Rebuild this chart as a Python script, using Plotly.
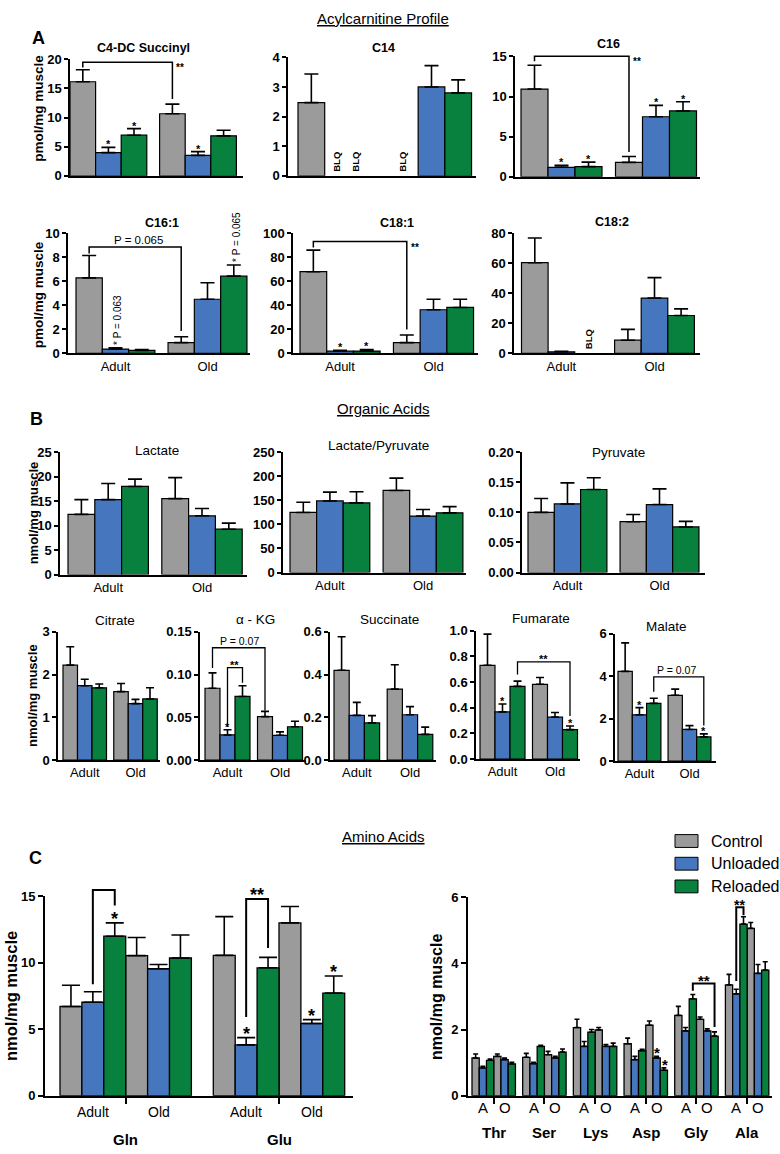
import plotly.graph_objects as go

FIG_W, FIG_H = 780, 1154
FONT = "Liberation Sans, Arial, Helvetica, sans-serif"
SERIES = ["Control", "Unloaded", "Reloaded"]
COLORS = ["#9b9b9b", "#4677be", "#08803e"]
AGE_LABELS = ["Adult", "Old"]
AGE_SHORT = ["A", "O"]

# ---------------- data (order: Adult C/U/R, Old C/U/R); None = BLQ ----------------
# Panel A: acylcarnitines, pmol/mg muscle
C4DC_MEAN = [16.15, 3.97, 6.97, 10.65, 3.5, 6.86]
C4DC_SEM = [2.05, 0.9, 1.13, 1.65, 0.64, 0.96]
C14_MEAN = [2.47, None, None, None, 3.0, 2.8]
C14_SEM = [0.97, None, None, None, 0.72, 0.44]
C16_MEAN = [10.93, 1.18, 1.26, 1.79, 7.48, 8.2]
C16_SEM = [2.97, 0.24, 0.57, 0.73, 1.42, 1.15]
C161_MEAN = [6.28, 0.36, 0.25, 0.9, 4.5, 6.42]
C161_SEM = [1.86, 0.1, 0.08, 0.49, 1.37, 0.93]
C181_MEAN = [67.9, 2.0, 2.0, 9.0, 36.3, 38.2]
C181_SEM = [17.9, 0.5, 1.3, 6.3, 8.7, 6.8]
C182_MEAN = [60.3, 1.1, None, 8.8, 36.8, 25.2]
C182_SEM = [16.4, 0.4, None, 7.2, 13.6, 4.4]

# Panel B: organic acids, nmol/mg muscle
LACTATE_MEAN = [12.3, 15.3, 18.0, 15.5, 12.0, 9.26]
LACTATE_SEM = [3.0, 3.3, 1.5, 4.3, 1.5, 1.24]
LACPYR_MEAN = [124.8, 148.7, 144.6, 170.5, 117.3, 124.0]
LACPYR_SEM = [21.2, 18.3, 23.2, 25.5, 13.7, 13.0]
PYRUVATE_MEAN = [0.100, 0.114, 0.138, 0.0845, 0.113, 0.0758]
PYRUVATE_SEM = [0.023, 0.035, 0.0196, 0.012, 0.026, 0.0092]
CITRATE_MEAN = [2.22, 1.74, 1.69, 1.60, 1.32, 1.43]
CITRATE_SEM = [0.43, 0.15, 0.09, 0.19, 0.10, 0.26]
AKG_MEAN = [0.084, 0.0294, 0.0744, 0.0508, 0.029, 0.039]
AKG_SEM = [0.018, 0.006, 0.0126, 0.0062, 0.004, 0.0064]
SUCCINATE_MEAN = [0.42, 0.209, 0.174, 0.332, 0.212, 0.12]
SUCCINATE_SEM = [0.157, 0.061, 0.034, 0.114, 0.038, 0.034]
FUMARATE_MEAN = [0.731, 0.368, 0.567, 0.583, 0.327, 0.23]
FUMARATE_SEM = [0.243, 0.062, 0.041, 0.053, 0.036, 0.028]
MALATE_MEAN = [4.23, 2.18, 2.72, 3.1, 1.49, 1.14]
MALATE_SEM = [1.34, 0.34, 0.24, 0.29, 0.18, 0.14]

# Panel C: amino acids, nmol/mg muscle
GLX_NAMES = ["Gln", "Glu"]
GLN_MEAN = [6.71, 7.03, 12.0, 10.54, 9.55, 10.36]
GLN_SEM = [1.6, 0.79, 1.0, 1.36, 0.32, 1.73]
GLU_MEAN = [10.56, 3.82, 9.62, 13.0, 5.43, 7.72]
GLU_SEM = [2.91, 0.55, 0.79, 1.24, 0.29, 1.28]

AA_NAMES = ["Thr", "Ser", "Lys", "Asp", "Gly", "Ala"]
THR_MEAN = [1.14, 0.84, 1.07, 1.19, 1.09, 0.96]
THR_SEM = [0.12, 0.05, 0.04, 0.07, 0.05, 0.05]
SER_MEAN = [1.16, 0.97, 1.49, 1.24, 1.14, 1.32]
SER_SEM = [0.12, 0.04, 0.03, 0.10, 0.05, 0.09]
LYS_MEAN = [2.06, 1.49, 1.92, 1.99, 1.49, 1.49]
LYS_SEM = [0.25, 0.15, 0.08, 0.07, 0.06, 0.10]
ASP_MEAN = [1.57, 1.09, 1.36, 2.13, 1.14, 0.77]
ASP_SEM = [0.17, 0.10, 0.04, 0.13, 0.05, 0.07]
GLY_MEAN = [2.43, 1.96, 2.93, 2.31, 1.96, 1.80]
GLY_SEM = [0.27, 0.10, 0.13, 0.07, 0.06, 0.13]
ALA_MEAN = [3.35, 3.08, 5.19, 5.06, 3.70, 3.80]
ALA_SEM = [0.32, 0.14, 0.22, 0.18, 0.27, 0.25]

# ---------------- layout helpers ----------------
AO_POS = [0, 1, 2, 3.5, 4.5, 5.5]


def multi_pos(n):
    return [7 * j + i for j in range(n) for i in range(6)]


# geometry in page pixels: (axis left, axis right, top, bottom(=0), first bar left, bar width)
panels = [
    dict(title="C4-DC Succinyl", mean=C4DC_MEAN, sem=C4DC_SEM, geom=(70, 243, 53, 171, 70, 25.6), ymax=20, dtick=5, fmt="", cap=7, xl=False),
    dict(title="C14", mean=C14_MEAN, sem=C14_SEM, geom=(288, 476, 51, 171, 298, 26.7), ymax=4, dtick=1, fmt="", cap=7, xl=False),
    dict(title="C16", mean=C16_MEAN, sem=C16_SEM, geom=(515, 700, 50, 172, 521, 27), ymax=15, dtick=5, fmt="", cap=7, xl=False),
    dict(title="C16:1", mean=C161_MEAN, sem=C161_SEM, geom=(68, 250, 229, 351, 76, 26.3), ymax=10, dtick=2, fmt="", cap=7, xl=True),
    dict(title="C18:1", mean=C181_MEAN, sem=C181_SEM, geom=(293, 478, 229, 351, 300, 26.7), ymax=100, dtick=20, fmt="", cap=7, xl=True),
    dict(title="C18:2", mean=C182_MEAN, sem=C182_SEM, geom=(514, 700, 229, 351, 521.5, 26.6), ymax=80, dtick=20, fmt="", cap=7, xl=True),
    dict(title="Lactate", mean=LACTATE_MEAN, sem=LACTATE_SEM, geom=(60, 247, 451, 575, 68, 26.8), ymax=25, dtick=5, fmt="", cap=7, xl=True),
    dict(title="Lactate/Pyruvate", mean=LACPYR_MEAN, sem=LACPYR_SEM, geom=(283, 466, 451, 573, 290, 26.6), ymax=250, dtick=50, fmt="", cap=7, xl=True),
    dict(title="Pyruvate", mean=PYRUVATE_MEAN, sem=PYRUVATE_SEM, geom=(522, 705, 451, 573, 528, 26.3), ymax=0.2, dtick=0.05, fmt=".2f", cap=7, xl=True),
    dict(title="Citrate", mean=CITRATE_MEAN, sem=CITRATE_SEM, geom=(58, 160, 633, 763, 63, 14.5), ymax=3, dtick=1, fmt="", cap=4, xl=True),
    dict(title="\u03b1 - KG", mean=AKG_MEAN, sem=AKG_SEM, geom=(200, 306, 633, 763, 205, 15), ymax=0.15, dtick=0.05, fmt=".2f", cap=4, xl=True),
    dict(title="Succinate", mean=SUCCINATE_MEAN, sem=SUCCINATE_SEM, geom=(330, 436, 633, 763, 334, 15.2), ymax=0.6, dtick=0.2, fmt=".1f", cap=4, xl=True),
    dict(title="Fumarate", mean=FUMARATE_MEAN, sem=FUMARATE_SEM, geom=(476, 580, 632, 762, 480, 15), ymax=1.0, dtick=0.2, fmt=".1f", cap=4, xl=True),
    dict(title="Malate", mean=MALATE_MEAN, sem=MALATE_SEM, geom=(615, 716, 635, 764, 618, 14.3), ymax=6, dtick=2, fmt="", cap=4, xl=True),
    dict(title=None, mean=GLN_MEAN + GLU_MEAN, sem=GLN_SEM + GLU_SEM, geom=(45, 353, 901, 1103, 60, 21.9), ymax=15, dtick=5, fmt="", cap=9, xl="C", groups=GLX_NAMES),
    dict(title=None, mean=THR_MEAN + SER_MEAN + LYS_MEAN + ASP_MEAN + GLY_MEAN + ALA_MEAN,
         sem=THR_SEM + SER_SEM + LYS_SEM + ASP_SEM + GLY_SEM + ALA_SEM,
         geom=(468, 772, 902, 1103, 472, 7.24), ymax=6, dtick=2, fmt="", cap=2.5, xl="C", groups=AA_NAMES),
]

fig = go.Figure()
layout = dict(width=FIG_W, height=FIG_H, autosize=False, margin=dict(l=0, r=0, t=0, b=0, pad=0),
              paper_bgcolor="white", plot_bgcolor="white", barmode="overlay",
              showlegend=False, font=dict(family=FONT, color="black"))
annotations = []
shapes = []
G = {}


def refs(n):
    return ("x" if n == 1 else f"x{n}", "y" if n == 1 else f"y{n}")


for n, p in enumerate(panels, start=1):
    L, R, T, B, B0, BW = p["geom"]
    G[n] = (L, R, T, B, B0, BW, p["ymax"])
    xr, yr = refs(n)
    if "groups" in p:
        pos = multi_pos(len(p["groups"]))
    else:
        pos = AO_POS
    big = p["xl"] == "C"
    for k, s in enumerate(SERIES):
        idx = [i for i in range(len(p["mean"])) if i % 3 == k]
        fig.add_trace(go.Bar(
            x=[pos[i] for i in idx], y=[p["mean"][i] for i in idx], width=1, name=s,
            marker=dict(color=COLORS[k], line=dict(color="black", width=1.3 if big else 1.2)),
            error_y=dict(type="data", symmetric=False,
                         array=[p["sem"][i] for i in idx], arrayminus=[0] * len(idx),
                         color="black", thickness=1.6, width=p["cap"]),
            xaxis=xr, yaxis=yr, showlegend=False, hoverinfo="skip"))
    xax = dict(domain=[L / FIG_W, R / FIG_W], range=[(L - B0) / BW - 0.5, (R - B0) / BW - 0.5],
               anchor=yr, showline=True, linecolor="black", linewidth=2 if big else 1.5,
               showgrid=False, zeroline=False, fixedrange=True)
    if big:
        ng = len(p["groups"])
        xax.update(tickmode="array", tickvals=[7 * j + 2.5 for j in range(ng)], ticktext=[""] * ng,
                   ticks="outside", ticklen=6, tickwidth=2, tickcolor="black", showticklabels=False)
    elif p["xl"]:
        xax.update(tickmode="array", tickvals=[1, 4.5], ticktext=AGE_LABELS, ticks="",
                   tickfont=dict(size=13, family=FONT))
    else:
        xax.update(showticklabels=False, ticks="")
    nt = int(round(p["ymax"] / p["dtick"]))
    yax = dict(domain=[1 - B / FIG_H, 1 - T / FIG_H], range=[0, p["ymax"] * 1.0002], anchor=xr,
               showline=True, linecolor="black", linewidth=2 if big else 1.5,
               showgrid=False, zeroline=False, fixedrange=True,
               tickmode="array", tickvals=[round(i * p["dtick"], 6) for i in range(nt + 1)],
               ticks="outside", ticklen=5 if big else 4, tickwidth=2 if big else 1.5, tickcolor="black",
               tickformat=p["fmt"], tickfont=dict(size=13, family=FONT, weight="bold"))
    layout["xaxis" if n == 1 else f"xaxis{n}"] = xax
    layout["yaxis" if n == 1 else f"yaxis{n}"] = yax


def to_px(n, x, y):
    L, R, T, B, B0, BW, ymax = G[n]
    return B0 + BW * (x + 0.5), B - (B - T) * y / ymax


def bracket(n, xl, yl, xr_, yr_, ytop, w=1.5):
    a = to_px(n, xl, yl)
    b = to_px(n, xl, ytop)
    c = to_px(n, xr_, ytop)
    d = to_px(n, xr_, yr_)
    pts = [a, b, c, d]
    path = "M" + " L".join(f"{px / FIG_W:.5f},{1 - py / FIG_H:.5f}" for px, py in pts)
    shapes.append(dict(type="path", path=path, xref="paper", yref="paper",
                       line=dict(color="black", width=w)))


def note(n, x, y, text, size=12, bold=False, **kw):
    xr, yr = refs(n)
    d = dict(xref=xr, yref=yr, x=x, y=y, text=text, showarrow=False, xanchor="center", yanchor="middle",
             font=dict(size=size, family=FONT, color="#000000", weight="bold" if bold else "normal"))
    d.update(kw)
    annotations.append(d)


def star(n, x, y, text="*", size=11):
    note(n, x, y, text, size=size, bold=True, yanchor="bottom", yshift=-round(0.45 * size))


def pnote(px, py, text, size=12, bold=False, **kw):
    d = dict(xref="paper", yref="paper", x=px / FIG_W, y=1 - py / FIG_H, text=text, showarrow=False,
             xanchor="center", yanchor="middle",
             font=dict(size=size, family=FONT, color="#000000", weight="bold" if bold else "normal"))
    d.update(kw)
    annotations.append(d)


# ---------------- section titles, letters, subplot titles ----------------
for txt, py in [("Acylcarnitine Profile", 12), ("Organic Acids", 407), ("Amino Acids", 840)]:
    annotations.append(dict(xref="paper", yref="paper", x=383 / FIG_W, y=1 - py / FIG_H, text=txt,
                            showarrow=False, xanchor="center", yanchor="middle",
                            font=dict(size=15, family=FONT, color="#000000", lineposition="under")))
pnote(38, 31, "A", 18, True)
pnote(36, 417, "B", 18, True)
pnote(35, 862, "C", 18, True)

title_pos = {1: (143, 42), 2: (383, 42), 3: (608, 37), 4: (162, 219), 5: (397, 219), 6: (612, 218),
             7: (157, 449), 8: (378, 444), 9: (618, 451),
             10: (115, 622), 11: (255, 621), 12: (389, 621), 13: (541, 620), 14: (666, 628)}
for n, (px, py) in title_pos.items():
    bold = n <= 6
    pnote(px, py, panels[n - 1]["title"], 12.5 if bold else 13.5, bold)

# y-axis titles
for px, py, txt, size in [(39, 103, "pmol/mg muscle", 13.5), (38, 292, "pmol/mg muscle", 13.5),
                          (33, 513, "nmol/mg muscle", 13), (33, 698, "nmol/mg muscle", 13),
                          (11, 1002, "nmol/mg muscle", 16.5), (437, 1003, "nmol/mg muscle", 16)]:
    pnote(px, py, txt, size, True, textangle=-90)

# ---------------- significance marks ----------------
# C4-DC
for x, y in [(1, 4.87), (2, 8.1), (4.5, 4.14)]:
    star(1, x, y)
bracket(1, 0, 18.6, 3.5, 13.2, 19.5)
note(1, 3.5, 19.5, "**", 10, True, xanchor="left", yanchor="top", xshift=2, yshift=2)
# C14 BLQ
for x in [0.96, 1.67, 3.43]:
    note(2, x, 0, "BLQ", 9.5, True, textangle=-90, yanchor="bottom", yshift=2)
# C16
for x, y in [(1, 1.42), (2, 1.83), (4.5, 8.9), (5.5, 9.35)]:
    star(3, x, y)
bracket(3, 0, 14.4, 3.5, 3.1, 15)
note(3, 3.5, 15, "**", 10, True, xanchor="left", yanchor="top", xshift=2, yshift=2)
# C16:1
bracket(4, 0, 8.3, 3.5, 1.86, 8.83)
note(4, 1.86, 8.83, "P = 0.065", 11.5, yanchor="bottom", yshift=-1)
note(4, 1.1, 0.46, "* P = 0.063", 10, textangle=-90, yanchor="bottom", yshift=1)
note(4, 5.62, 7.35, "* P = 0.065", 10, textangle=-90, yanchor="bottom", yshift=1)
# C18:1
for x, y in [(1, 2.5), (2, 3.3)]:
    star(5, x, y)
bracket(5, 0, 88, 3.5, 19.9, 92.9)
note(5, 3.5, 92.9, "**", 10, True, xanchor="left", yanchor="top", xshift=2, yshift=2)
# C18:2 BLQ
note(6, 2.03, 0, "BLQ", 9.5, True, textangle=-90, yanchor="bottom", yshift=2)
# alpha-KG
star(11, 1, 0.0355)
bracket(11, 0, 0.1076, 3.5, 0.058, 0.1313, 1.3)
note(11, 1.77, 0.1313, "P = 0.07", 10.5, yanchor="bottom", yshift=-1)
bracket(11, 1, 0.039, 2, 0.0905, 0.108, 1.3)
star(11, 1.5, 0.108, "**", 11)
# Fumarate
star(13, 1, 0.43)
star(13, 5.5, 0.258)
bracket(13, 2, 0.66, 5.5, 0.335, 0.757, 1.3)
star(13, 3.75, 0.757, "**", 11)
# Malate
star(14, 1, 2.52)
star(14, 5.5, 1.28)
bracket(14, 2, 3.27, 5.5, 1.68, 3.97, 1.3)
note(14, 3.6, 3.97, "P = 0.07", 10.5, yanchor="bottom", yshift=-1)
# Gln / Glu
for x, y in [(2, 13.0), (8, 4.37), (11, 5.72), (12, 9.0)]:
    star(15, x, y, size=18)
bracket(15, 1, 8.39, 2, 14.3, 15.47, 2)
star(15, 1.5, 15.47, "**", 18)
bracket(15, 8, 5.92, 9, 11.1, 14.8, 2)
star(15, 8.5, 14.8, "**", 18)
# small amino acids
star(16, 25, 1.19, size=15)
star(16, 26.1, 0.84, size=15)
bracket(16, 30, 3.17, 33, 2.08, 3.39, 2)
star(16, 31.5, 3.39, "**", 15)
bracket(16, 36, 3.47, 37, 5.46, 5.7, 2)
note(16, 36.5, 5.7, "**", 14, True, yanchor="bottom", yshift=-8)

# ---------------- panel C x labels ----------------
for j, name in enumerate(GLX_NAMES):
    for a, lab in enumerate(AGE_LABELS):
        annotations.append(dict(xref="x15", yref="paper", x=7 * j + 1 + 3 * a, y=1 - 1120 / FIG_H, text=lab,
                                showarrow=False, xanchor="center", yanchor="middle",
                                font=dict(size=14, family=FONT, color="#000000")))
    annotations.append(dict(xref="x15", yref="paper", x=7 * j + 2.5, y=1 - 1147 / FIG_H, text=name,
                            showarrow=False, xanchor="center", yanchor="middle",
                            font=dict(size=15, family=FONT, color="#000000", weight="bold")))
for j, name in enumerate(AA_NAMES):
    for a, lab in enumerate(AGE_SHORT):
        annotations.append(dict(xref="x16", yref="paper", x=7 * j + 1 + 3 * a, y=1 - 1115 / FIG_H, text=lab,
                                showarrow=False, xanchor="center", yanchor="middle",
                                font=dict(size=15, family=FONT, color="#000000")))
    annotations.append(dict(xref="x16", yref="paper", x=7 * j + 2.5, y=1 - 1140 / FIG_H, text=name,
                            showarrow=False, xanchor="center", yanchor="middle",
                            font=dict(size=15, family=FONT, color="#000000", weight="bold")))

# ---------------- legend ----------------
for k, s in enumerate(SERIES):
    yc = 845 + 23 * k
    shapes.append(dict(type="rect", xref="paper", yref="paper", x0=675 / FIG_W, x1=698 / FIG_W,
                       y0=1 - (yc + 6.5) / FIG_H, y1=1 - (yc - 6.5) / FIG_H,
                       fillcolor=COLORS[k], line=dict(color="black", width=1)))
    pnote(709, yc, s, 16, xanchor="left")

layout["annotations"] = annotations
layout["shapes"] = shapes
fig.update_layout(**layout)

PAGE_FIX = ("var s=document.createElement('style');"
            "s.textContent='html,body{margin:0!important;padding:0!important;overflow:hidden!important;"
            "width:780px;height:1154px;}';document.head.appendChild(s);")
fig.write_html("out.html", config={"displayModeBar": False, "responsive": False}, post_script=PAGE_FIX)
